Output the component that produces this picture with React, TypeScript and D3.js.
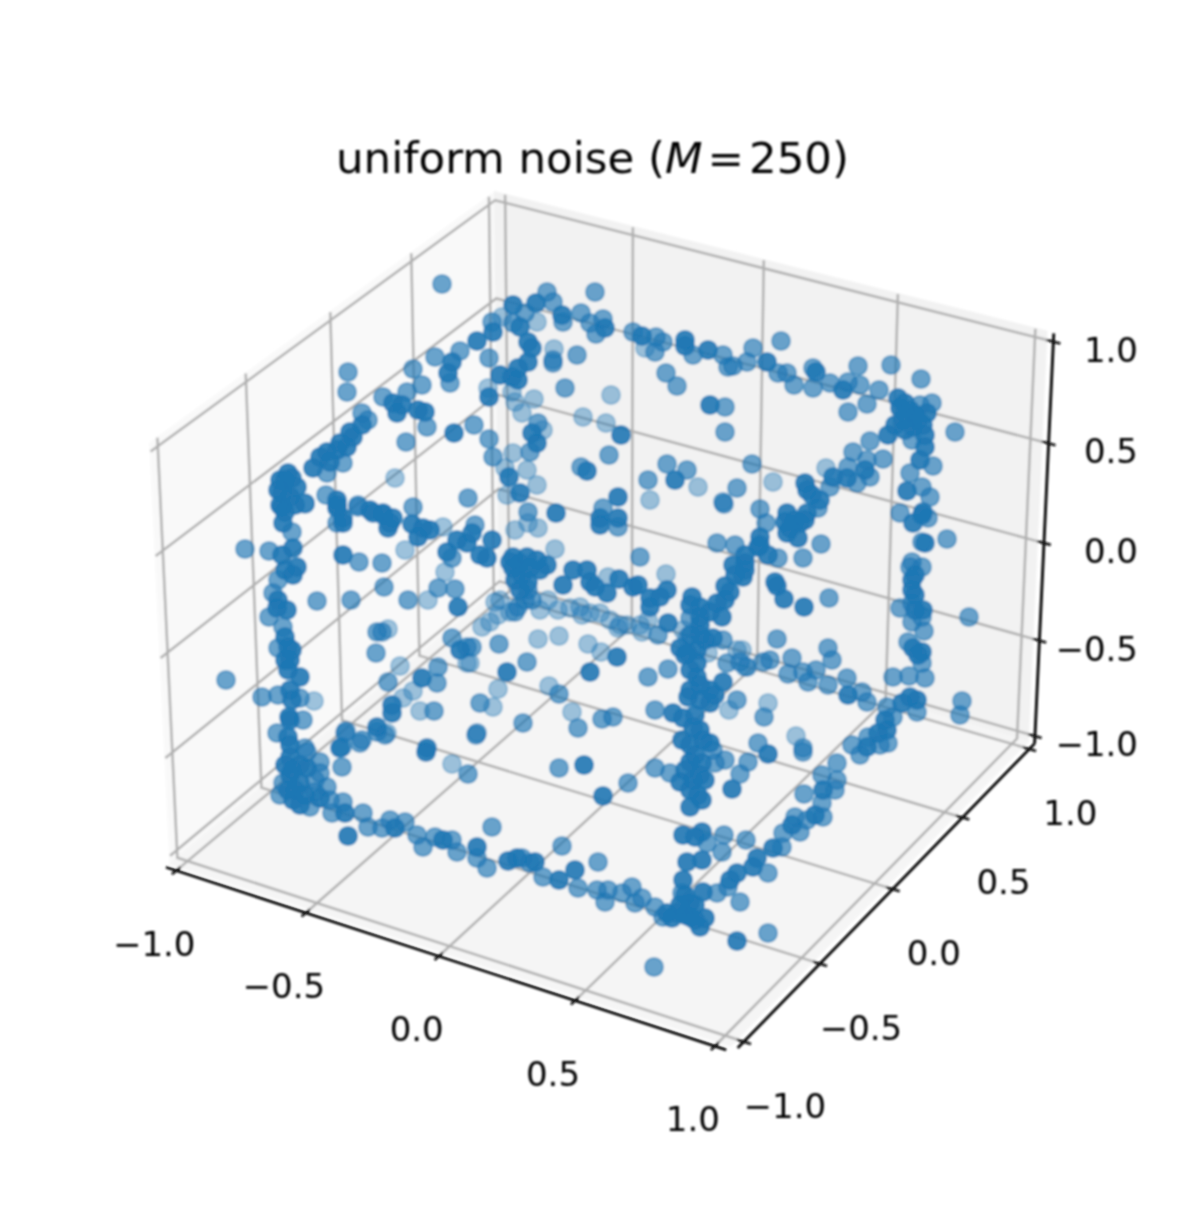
import React from "react";
import * as d3 from "d3";

const tickValues = [-1, -0.5, 0, 0.5, 1];
const tickNames = ["\u22121.0", "\u22120.5", "0.0", "0.5", "1.0"];

// points as [view-plane across, view-plane up, depth 0 far .. 1 near]
type P = [number, number, number];

const topLeftPoints: P[] = [
  [-.504,.496,.6],[-.506,.456,.6],[-.374,.502,.6],[-.330,.526,.6],[-.356,.470,.6],[-.386,.456,.6],[-.434,.446,.6],
  [-.414,.434,.9],[-.396,.430,.9],[-.406,.414,.9],[-.364,.420,.9],[-.350,.416,.9],[-.346,.386,.6],[-.388,.356,.6],
  [-.410,.284,.3],[-.476,.414,.6],[-.464,.400,.6],[-.476,.390,.9],[-.494,.366,.9],[-.506,.346,.9],[-.526,.340,.9],
  [-.546,.336,.9],[-.560,.326,.9],[-.514,.314,.6],[-.546,.294,.6],[-.574,.304,.9],[-.624,.294,.9],[-.640,.280,.9],
  [-.606,.266,.9],[-.636,.254,.9],[-.640,.230,.9],[-.590,.234,.6],[-.548,.250,.6],[-.526,.240,.9],[-.526,.224,.9],
  [-.484,.226,.6],[-.460,.220,.9],[-.434,.214,.9],[-.414,.204,.9],[-.374,.226,.6],[-.514,.204,.9],
];

const topMiddlePoints: P[] = [
  [-.316,.672,.6],[-.106,.656,.6],[-.010,.656,.6],[-.174,.630,.9],[-.128,.634,.9],[-.094,.636,.6],[-.150,.614,.6],
  [-.196,.606,.3],[-.216,.596,.6],[-.214,.576,.9],[-.174,.594,.6],[-.160,.586,.9],[-.126,.596,.3],[-.076,.610,.9],
  [-.074,.596,.6],[-.038,.614,.6],[-.020,.594,.6],[.006,.602,.6],[.010,.584,.9],[-.008,.572,.6],[.066,.576,.6],
  [.084,.568,.9],[.090,.544,.3],[.112,.566,.6],[.126,.556,.6],[.110,.536,.6],[.170,.560,.9],[.170,.548,.9],
  [.186,.530,.6],[.216,.540,.9],[.246,.530,.6],[.256,.506,.6],[-.246,.558,.9],[-.280,.538,.6],[-.296,.516,.9],
  [-.304,.494,.9],[-.300,.474,.6],[-.222,.524,.6],[-.144,.556,.9],[-.136,.544,.9],[-.144,.516,.9],[-.164,.504,.9],
  [-.200,.490,.9],[-.176,.486,.9],[-.164,.480,.9],[-.092,.542,.3],[-.094,.520,.6],[-.094,.514,.6],[-.046,.530,.6],
  [-.070,.464,.6],[.022,.450,.3],[-.224,.464,.3],[-.222,.446,.9],[-.176,.456,.3],[-.132,.442,.3],[-.170,.436,.3],
  [-.156,.414,.3],[.132,.494,.6],[.154,.468,.6],[.220,.430,.9],[.250,.426,.6],[.250,.376,.6],[-.034,.406,.3],
  [.012,.394,.3],[.042,.370,.9],[.018,.330,.6],[-.038,.306,.6],[-.026,.298,.9],[-.292,.374,.9],[-.252,.390,.6],
  [-.222,.362,.6],[-.214,.326,.6],[-.174,.334,.3],[-.124,.394,.6],[-.136,.374,.9],[-.114,.380,.3],[-.126,.354,.9],
  [-.140,.336,.6],[-.190,.304,.3],[-.182,.286,.9],[-.146,.300,.3],[-.126,.270,.3],[-.160,.254,.9],[-.186,.250,.3],
  [-.264,.244,.6],[-.144,.216,.6],[-.088,.214,.9],[.006,.224,.6],[.036,.246,.9],[.000,.204,.9],[.036,.204,.9],
  [.134,.312,.6],[.096,.280,.6],[.100,.240,.3],[.150,.280,.9],[.174,.300,.6],[.196,.266,.3],[.246,.236,.6],
];

const topRightPoints: P[] = [
  [.362,.558,.6],[.306,.544,.6],[.294,.516,.6],[.266,.508,.6],[.334,.516,.9],[.356,.494,.6],[.374,.494,.6],
  [.388,.470,.6],[.426,.504,.6],[.432,.496,.9],[.426,.464,.6],[.460,.474,.6],[.516,.508,.6],[.582,.510,.6],
  [.642,.482,.6],[.496,.476,.6],[.486,.460,.9],[.520,.470,.6],[.558,.460,.6],[.534,.432,.6],[.496,.416,.6],
  [.596,.444,.9],[.600,.424,.9],[.620,.420,.9],[.640,.430,.6],[.664,.434,.6],[.654,.414,.9],[.606,.400,.9],
  [.646,.390,.9],[.626,.386,.9],[.710,.376,.6],[.576,.370,.9],[.540,.358,.6],[.624,.360,.6],[.650,.346,.9],
  [.506,.336,.6],[.534,.320,.6],[.566,.322,.6],[.640,.320,.9],[.666,.308,.6],[.620,.294,.6],[.452,.304,.3],
  [.496,.306,.6],[.466,.286,.9],[.494,.284,.9],[.460,.266,.6],[.514,.274,.6],[.540,.286,.6],[.530,.300,.9],
  [.304,.312,.6],[.346,.276,.3],[.274,.264,.6],[.614,.258,.9],[.644,.266,.6],[.660,.246,.6],[.600,.214,.6],
  [.646,.216,.9],[.414,.260,.9],[.410,.274,.9],[.424,.250,.9],[.436,.224,.6],[.320,.222,.6],[.374,.214,.9],
  [.414,.214,.9],
];

const midLeftPoints: P[] = [
  [-.710,.142,.6],[-.662,.138,.6],[-.636,.226,.9],[-.634,.194,.9],[-.616,.176,.6],[-.590,.232,.6],[-.614,.144,.9],
  [-.636,.130,.9],[-.606,.106,.9],[-.630,.100,.9],[-.614,.090,.9],[-.644,.080,.6],[-.654,.054,.6],[-.644,.040,.9],
  [-.626,.020,.9],[-.646,.024,.9],[-.662,.006,.6],[-.634,-.014,.6],[-.630,-.034,.9],[-.644,-.056,.6],[-.624,-.054,.9],
  [-.620,-.080,.9],[-.624,-.100,.9],[-.600,-.114,.9],[-.748,-.120,.6],[-.676,-.154,.6],[-.644,-.150,.6],[-.620,-.140,.9],
  [-.616,-.160,.9],[-.572,-.162,.3],[-.600,-.156,.6],[-.622,-.194,.9],[-.594,-.200,.6],[-.646,-.226,.6],[-.624,-.234,.9],
  [-.620,-.250,.9],[-.590,-.256,.6],[-.566,.038,.6],[-.498,.040,.6],[-.514,.130,.9],[-.482,.116,.6],[-.436,.114,.6],
  [-.390,.140,.3],[-.432,.066,.6],[-.384,.040,.6],[-.344,.040,.3],[-.324,.064,.6],[-.290,.062,.6],[-.284,.026,.9],
  [-.310,.096,.3],[-.306,.136,.9],[-.296,.124,.6],[-.446,-.024,.6],[-.424,-.018,.3],[-.436,-.024,.6],[-.448,-.066,.6],
  [-.400,-.092,.3],[-.424,-.124,.6],[-.356,-.116,.9],[-.326,-.126,.6],[-.374,-.142,.3],[-.394,-.156,.3],[-.416,-.170,.9],
  [-.416,-.186,.9],[-.360,-.182,.3],[-.332,-.182,.6],[-.296,-.036,.6],[-.280,-.060,.9],[-.266,-.054,.6],[-.324,-.094,.6],
  [-.266,-.086,.3],[-.508,-.222,.6],[-.476,-.240,.6],[-.446,-.214,.9],[-.426,-.226,.3],[-.516,-.254,.6],[-.346,-.256,.9],
  [-.514,.194,.9],[-.526,.194,.6],[-.526,.230,.9],[-.484,.230,.6],[-.454,.214,.9],[-.434,.210,.9],[-.420,.194,.9],
  [-.424,.184,.9],[-.376,.192,.9],[-.354,.184,.9],[-.364,.166,.9],[-.340,.180,.9],[-.314,.186,.3],[-.286,.160,.9],
  [-.266,.154,.9],
];

const midMiddlePoints: P[] = [
  [0,.190,.9],[.036,.186,.6],[.248,.232,.6],[-.216,.160,.9],[-.240,.130,.9],[-.226,.124,.9],[-.256,.174,.9],[-.250,.190,.6],
  [-.144,.194,.3],[-.170,.180,.3],[-.124,.184,.3],[-.090,.142,.3],[.080,.126,.6],[.132,.092,.3],[-.160,.114,.9],
  [-.174,.126,.9],[-.146,.126,.9],[-.126,.120,.9],[-.106,.110,.9],[-.174,.104,.9],[-.156,.090,.9],[-.144,.076,.9],
  [-.144,.060,.6],[-.054,.100,.9],[-.026,.100,.9],[-.074,.070,.9],[-.020,.076,.9],[-.010,.066,.9],[.014,.054,.9],
  [.016,.086,.3],[.038,.082,.9],[.066,.066,.9],[.076,.070,.9],[.100,.044,.9],[.100,.026,.9],[.134,.060,.9],[.120,.046,.9],
  [.184,.046,.9],[.200,.026,.9],[.234,.034,.9],[.250,.068,.9],[.244,.006,.9],[.200,.006,.9],[.234,.154,.6],[.270,.150,.6],
  [.266,.110,.9],[.260,.056,.9],[.136,-.006,.9],[.180,.004,.6],[.096,0,.3],[.166,-.020,.3],[.054,-.010,.3],[.036,-.016,.3],
  [.084,-.024,.3],[.116,-.030,.6],[.200,-.030,.9],[.226,-.036,.9],[.246,-.040,.6],[.174,-.036,.3],[.160,-.056,.9],
  [.176,-.066,.9],[.194,-.060,.9],[.216,-.066,.3],[.254,-.086,.6],[.274,-.060,.3],[.290,-.094,.3],[.194,-.086,.9],
  [.194,-.114,.9],[.176,-.154,.9],[.220,-.140,.9],[.246,-.124,.9],[.220,-.166,.9],[.274,-.160,.6],[.258,-.180,.3],
  [.110,-.180,.6],[.146,-.186,.9],[.166,-.196,.9],[.164,-.240,.9],[.200,-.220,.9],[.206,-.240,.9],[.186,-.214,.9],
  [-.210,.036,.3],[-.236,-.014,.3],[-.220,-.004,.3],[-.204,.010,.3],[-.164,.026,.6],[-.136,.040,.6],[-.104,.040,.3],
  [-.084,.020,.3],[-.040,.026,.3],[0,.014,.3],[-.020,.014,.3],[-.036,.010,.3],[-.124,-.038,.3],[-.082,-.032,.3],
  [-.024,-.048,.3],[.002,-.064,.3],[.034,-.074,.9],[-.202,-.048,.6],[-.146,-.084,.6],[-.186,-.104,.9],[-.020,-.104,.9],
  [.136,-.098,.6],[.096,-.114,.6],[-.204,-.138,.3],[-.240,-.166,.6],[-.214,-.174,.3],[-.102,-.132,.3],[-.082,-.148,.6],
  [-.056,-.184,.3],[-.044,-.216,.6],[-.154,-.206,.6],[-.246,-.226,.6],[.004,-.198,.6],[.026,-.194,.6],[-.256,-.054,.6],
  [-.260,-.086,.3],
];

const midRightPoints: P[] = [
  [.332,.194,.6],[.370,.196,.9],[.400,.194,.9],[.374,.174,.9],[.396,.164,.9],[.442,.152,.6],[.406,.124,.6],[.356,.124,.6],
  [.320,.166,.9],[.316,.146,.9],[.336,.130,.9],[.290,.114,.9],[.286,.086,.9],[.350,.076,.9],[.354,.068,.9],[.368,.042,.9],
  [.408,.026,.9],[.458,.044,.6],[.626,.194,.9],[.644,.210,.9],[.656,.204,.6],[.644,.156,.6],[.650,.154,.9],[.694,.162,.6],
  [.620,.106,.6],[.644,.106,.6],[.624,.080,.9],[.624,.060,.9],[.624,.116,.6],[.624,.034,.6],[.600,.024,.6],[.646,.020,.9],
  [.644,.006,.6],[.624,-.004,.6],[.648,-.022,.6],[.738,.006,.6],[.616,-.044,.6],[.626,-.056,.9],[.644,-.064,.9],
  [.644,-.086,.6],[.586,-.114,.6],[.618,-.112,.6],[.650,-.116,.6],[.620,-.154,.9],[.634,-.160,.9],[.634,-.184,.6],
  [.604,-.166,.9],[.574,-.174,.6],[.586,-.194,.6],[.724,-.162,.6],[.720,-.190,.6],[.354,-.038,.6],[.456,-.056,.6],
  [.464,-.080,.6],[.284,-.060,.3],[.340,-.080,.6],[.384,-.076,.6],[.376,-.108,.6],[.406,-.104,.6],[.432,-.100,.6],
  [.416,-.124,.6],[.456,-.130,.6],[.494,-.116,.6],[.496,-.150,.9],[.524,-.144,.6],[.534,-.164,.6],[.294,-.094,.6],
  [.326,-.084,.6],[.280,-.084,.6],[.336,-.166,.3],[.328,-.194,.6],[.392,-.232,.3],[.316,-.246,.6],[.406,-.256,.6],
  [.574,-.220,.9],[.536,-.234,.6],[.556,-.226,.9],[.576,-.246,.6],[.534,-.254,.9],[.504,-.250,.6],
];

const lowLeftPoints: P[] = [
  [-.620,-.274,.9],[-.586,-.264,.6],[-.560,-.284,.6],[-.616,-.300,.9],[-.586,-.296,.9],[-.560,-.306,.6],[-.634,-.326,.6],
  [-.600,-.326,.9],[-.546,-.334,.6],[-.570,-.344,.6],[-.640,-.350,.6],[-.614,-.360,.9],[-.580,-.374,.6],[-.560,-.356,.9],
  [-.520,-.256,.9],[-.516,-.294,.6],[-.480,-.246,.6],[-.510,-.226,.6],[-.446,-.224,.6],[-.430,-.230,.6],[-.348,-.264,.9],
  [-.296,-.288,.3],[-.264,-.308,.6],[-.248,-.230,.6],[-.514,-.364,.6],[-.536,-.386,.6],[-.510,-.386,.9],[-.474,-.386,.6],
  [-.504,-.432,.9],[-.464,-.414,.6],[-.436,-.416,.6],[-.420,-.400,.6],[-.410,-.416,.9],[-.390,-.404,.6],[-.366,-.430,.6],
  [-.354,-.454,.6],[-.330,-.434,.6],[-.314,-.440,.9],[-.296,-.440,.6],[-.286,-.464,.6],[-.246,-.454,.9],[-.246,-.476,.6],
  [-.226,-.496,.6],[-.216,-.414,.6],[-.184,-.482,.9],[-.166,-.476,.9],[-.140,-.486,.6],
];

const lowRightPoints: P[] = [
  [-.082,-.296,.6],[-.032,-.290,.9],[.056,-.326,.6],[.006,-.352,.9],[.110,-.296,.6],[.140,-.306,.6],[.160,-.324,.9],
  [.220,-.246,.9],[.180,-.284,.9],[.204,-.286,.9],[.226,-.260,.6],[.250,-.280,.6],[.230,-.286,.6],[.186,-.320,.9],
  [.210,-.320,.9],[.196,-.350,.9],[.180,-.374,.9],[.204,-.360,.9],[.336,-.268,.9],[.406,-.264,.6],[.296,-.284,.6],
  [.280,-.308,.6],[.264,-.338,.9],[.444,-.310,.6],[.446,-.340,.9],[.474,-.286,.6],[.474,-.320,.6],[.408,-.348,.6],
  [.444,-.366,.6],[.446,-.394,.6],[.390,-.394,.6],[.384,-.410,.9],[.400,-.424,.6],[.366,-.426,.6],[.414,-.400,.6],
  [.166,-.430,.9],[.204,-.424,.9],[.190,-.434,.9],[.248,-.430,.6],[.292,-.440,.6],[.244,-.464,.6],[.214,-.446,.6],
  [.174,-.484,.9],[.204,-.480,.9],[.346,-.456,.9],[.364,-.454,.6],[.314,-.476,.9],[.306,-.494,.9],[.336,-.506,.6],
  [.274,-.506,.9],[.260,-.520,.9],[-.076,-.452,.6],[-.004,-.484,.6],[-.130,-.484,.9],[-.156,-.476,.6],[-.114,-.514,.6],
  [-.082,-.520,.9],[-.050,-.500,.9],[-.044,-.536,.6],[-.006,-.540,.6],[.016,-.540,.6],[.010,-.564,.6],[.044,-.546,.6],
  [.064,-.534,.6],[.070,-.566,.6],[.084,-.556,.6],[.166,-.520,.9],[.164,-.546,.6],[.206,-.544,.9],[.234,-.546,.6],
  [.256,-.534,.6],[.280,-.564,.6],[.110,-.574,.6],[.126,-.594,.6],[.154,-.586,.9],[.180,-.566,.9],[.180,-.594,.9],
  [.200,-.614,.9],[.210,-.596,.9],[.134,-.586,.9],[.336,-.626,.6],[.274,-.642,.9],[.108,-.694,.6],
];

// the dense knots where single markers can't be told apart
const denseKnotPoints: P[] = [
  [-.630,.280,.9],[-.616,.284,.9],[-.644,.260,.9],[-.620,.246,.9],[-.630,.216,.9],[-.610,.230,.9],
  [-.500,.376,.9],[-.520,.354,.9],[-.540,.316,.9],
  [.610,.434,.9],[.630,.410,.9],[.610,.414,.9],[.636,.400,.9],[.590,.390,.9],[.650,.370,.9],[.610,.380,.9],
  [-.620,-.310,.9],[-.600,-.290,.9],[-.630,-.290,.9],[-.610,-.340,.9],[-.590,-.350,.9],[-.600,-.370,.9],[-.624,-.340,.9],
  [-.570,-.320,.6],[-.540,-.360,.6],
  [-.180,.116,.9],[-.140,.104,.9],[-.120,.100,.9],[-.170,.080,.9],[-.160,.060,.9],[-.150,.040,.6],[-.170,.016,.6],
  [.180,.030,.9],[.220,.016,.9],[.200,-.010,.9],[.180,-.030,.9],[.210,-.040,.9],[.170,-.070,.9],[.180,-.100,.9],
  [.200,-.130,.9],[.200,-.160,.9],[.190,-.190,.9],[.230,-.150,.9],[.180,-.140,.9],
  [.180,-.250,.9],[.190,-.270,.9],[.170,-.300,.9],[.200,-.310,.9],[.180,-.340,.9],
  [.170,-.590,.9],[.190,-.570,.9],[.144,-.596,.9],[.190,-.600,.9],[.170,-.550,.9],[.160,-.570,.9],
  [.290,.100,.9],[.270,.090,.9],[.250,.040,.9],[.290,.130,.9],[.320,.150,.9],[.390,.200,.9],[.380,.184,.9],[.410,.200,.9],[.440,.240,.9],
  [.020,0,.3],[-.060,.024,.3],[.040,-.010,.3],[.080,-.010,.3],[-.120,.020,.3],[-.180,.016,.3],[-.200,.040,.3],
  [.570,-.200,.9],[.560,-.250,.6],[.520,-.270,.6],[.470,-.340,.6],[.430,-.390,.9],
  [.630,.090,.9],[.630,.050,.9],[.630,.020,.9],[.636,-.070,.9],
  [-.630,-.080,.9],[-.616,-.060,.9],[-.620,-.200,.9],
];

const allPoints = [
  ...topLeftPoints, ...topMiddlePoints, ...topRightPoints,
  ...midLeftPoints, ...midMiddlePoints, ...midRightPoints,
  ...lowLeftPoints, ...lowRightPoints, ...denseKnotPoints,
].sort((a, b) => a[2] - b[2]);

const LIM = 1.04;
const width = 1196;
const height = 1209;

// same camera as a default mplot3d axes
const elev = (30 * Math.PI) / 180;
const azim = (-60 * Math.PI) / 180;
const dist = 10;
const boxK = (1.8294640721620434 * (25 / 24)) / Math.hypot(4, 4, 3);
const box = [4 * boxK, 4 * boxK, 3 * boxK];

type V3 = [number, number, number];
const dot = (a: number[], b: number[]) => a[0] * b[0] + a[1] * b[1] + a[2] * b[2];
const w = [Math.cos(elev) * Math.cos(azim), Math.cos(elev) * Math.sin(azim), Math.sin(elev)];
const uAxis = (() => {
  const n = Math.hypot(w[1], w[0]);
  return [-w[1] / n, w[0] / n, 0];
})();
const vAxis = [
  w[1] * uAxis[2] - w[2] * uAxis[1],
  w[2] * uAxis[0] - w[0] * uAxis[2],
  w[0] * uAxis[1] - w[1] * uAxis[0],
];

const toBox = d3.scaleLinear().domain([-LIM, LIM]).range([0, 1]);

function camera([x, y, z]: V3): [number, number] {
  const p = [toBox(x) * box[0], toBox(y) * box[1], toBox(z) * box[2]];
  const rel = [0, 1, 2].map((i) => p[i] - box[i] / 2 - dist * w[i]);
  const depth = -dot(w, rel);
  return [dot(uAxis, rel) / depth, dot(vAxis, rel) / depth];
}

const L = LIM;
const screenX = d3
  .scaleLinear()
  .domain([camera([-L, -1, -1])[0], camera([1, L, 1])[0]])
  .range([177, 1035]);
const screenY = d3
  .scaleLinear()
  .domain([camera([1, -L, -L])[1], camera([1, L, 1])[1]])
  .range([1042, 337]);

const project = (p: V3): [number, number] => {
  const c = camera(p);
  return [screenX(c[0]), screenY(c[1])];
};
const line = d3.line<V3>().x((p) => project(p)[0]).y((p) => project(p)[1]);

// the points themselves only exist on the view plane
const viewX = d3.scaleLinear().domain([-1, 1]).range([100, 1100]);
const viewY = d3.scaleLinear().domain([-1, 1]).range([1120, 120]);
const depthAlpha = d3.scaleLinear().domain([0.3, 0.9]).range([0.42, 0.9]);

const panes: { pts: V3[]; fill: string }[] = [
  { pts: [[-L, -L, -L], [-L, L, -L], [-L, L, L], [-L, -L, L]], fill: "#f9f9f9" },
  { pts: [[-L, L, -L], [L, L, -L], [L, L, L], [-L, L, L]], fill: "#f2f2f2" },
  { pts: [[-L, -L, -L], [L, -L, -L], [L, L, -L], [-L, L, -L]], fill: "#f5f5f5" },
];

const gridLines: V3[][] = tickValues.flatMap((t) => [
  [[t, -L, -L], [t, L, -L], [t, L, L]] as V3[],
  [[L, t, -L], [-L, t, -L], [-L, t, L]] as V3[],
  [[-L, -L, t], [-L, L, t], [L, L, t]] as V3[],
]);

const OUT = 1.025;
const axisLines: V3[][] = [
  [[-L, -L * OUT, -L], [L, -L * OUT, -L]],
  [[L * OUT, -L, -L], [L * OUT, L, -L]],
  [[L * OUT, L, -L], [L * OUT, L, L]],
];
const TICK = 0.025;
const xTicks: V3[][] = tickValues.map((t) => [[t, -L * OUT - TICK, -L], [t, -L * OUT + TICK, -L]]);
const yTicks: V3[][] = tickValues.map((t) => [[L * OUT - TICK, t, -L], [L * OUT + TICK, t, -L]]);
const zTicks: V3[][] = tickValues.map((t) => [[L * OUT - TICK, L, t], [L * OUT + TICK, L, t]]);

const labelFont = { fontFamily: "DejaVu Sans", fontSize: 34, fill: "#000" };

export default function App() {
  const xLabelAt = (t: number) => project([t, -L * OUT, -L]);
  const yLabelAt = (t: number) => project([L * OUT, t, -L]);
  const zLabelAt = (t: number) => project([L * OUT, L, t]);
  return (
    <svg
      width={width}
      height={height}
      viewBox={`0 0 ${width} ${height}`}
      style={{ position: "absolute", left: 0, top: 0, background: "#fff" }}
    >
      <defs>
        <filter id="soft" x="0" y="0" width="100%" height="100%">
          <feGaussianBlur stdDeviation="0.8" />
        </filter>
      </defs>
      <g filter="url(#soft)">
        {panes.map((p, i) => (
          <path key={i} d={line(p.pts) + "Z"} fill={p.fill} stroke={p.fill} strokeWidth={2} />
        ))}
        {gridLines.map((g, i) => (
          <path key={i} d={line(g) || ""} fill="none" stroke="#b0b0b0" strokeWidth={2.5} />
        ))}
        {axisLines.map((a, i) => (
          <path key={i} d={line(a) || ""} fill="none" stroke="#000" strokeWidth={2.8} />
        ))}
        {[...xTicks, ...yTicks, ...zTicks].map((a, i) => (
          <path key={i} d={line(a) || ""} fill="none" stroke="#111" strokeWidth={2.6} />
        ))}
        {allPoints.map(([u, v, d], i) => (
          <circle
            key={i}
            cx={viewX(u)}
            cy={viewY(v)}
            r={9.2}
            fill="#1f77b4"
            fillOpacity={depthAlpha(d)}
            stroke="#1f77b4"
            strokeOpacity={depthAlpha(d) * 0.8}
            strokeWidth={1.8}
          />
        ))}
        <text x={592.5} y={173} textAnchor="middle" fontFamily="DejaVu Sans" fontSize={43.5} fill="#000">
          uniform noise (<tspan fontStyle="italic">M</tspan>
          <tspan dx={5}>=</tspan>
          <tspan dx={5}>250)</tspan>
        </text>
        {tickValues.map((t, i) => {
          const [x, y] = xLabelAt(t);
          return (
            <text key={i} x={x - 22} y={y + 85} textAnchor="middle" {...labelFont}>
              {tickNames[i]}
            </text>
          );
        })}
        {tickValues.map((t, i) => {
          const [x, y] = yLabelAt(t);
          return (
            <text key={i} x={x + 41} y={y + 76} textAnchor="middle" {...labelFont}>
              {tickNames[i]}
            </text>
          );
        })}
        {tickValues.map((t, i) => {
          const [, y] = zLabelAt(t);
          return (
            <text key={i} x={1138} y={y + 20} textAnchor="end" {...labelFont}>
              {tickNames[i]}
            </text>
          );
        })}
      </g>
    </svg>
  );
}
